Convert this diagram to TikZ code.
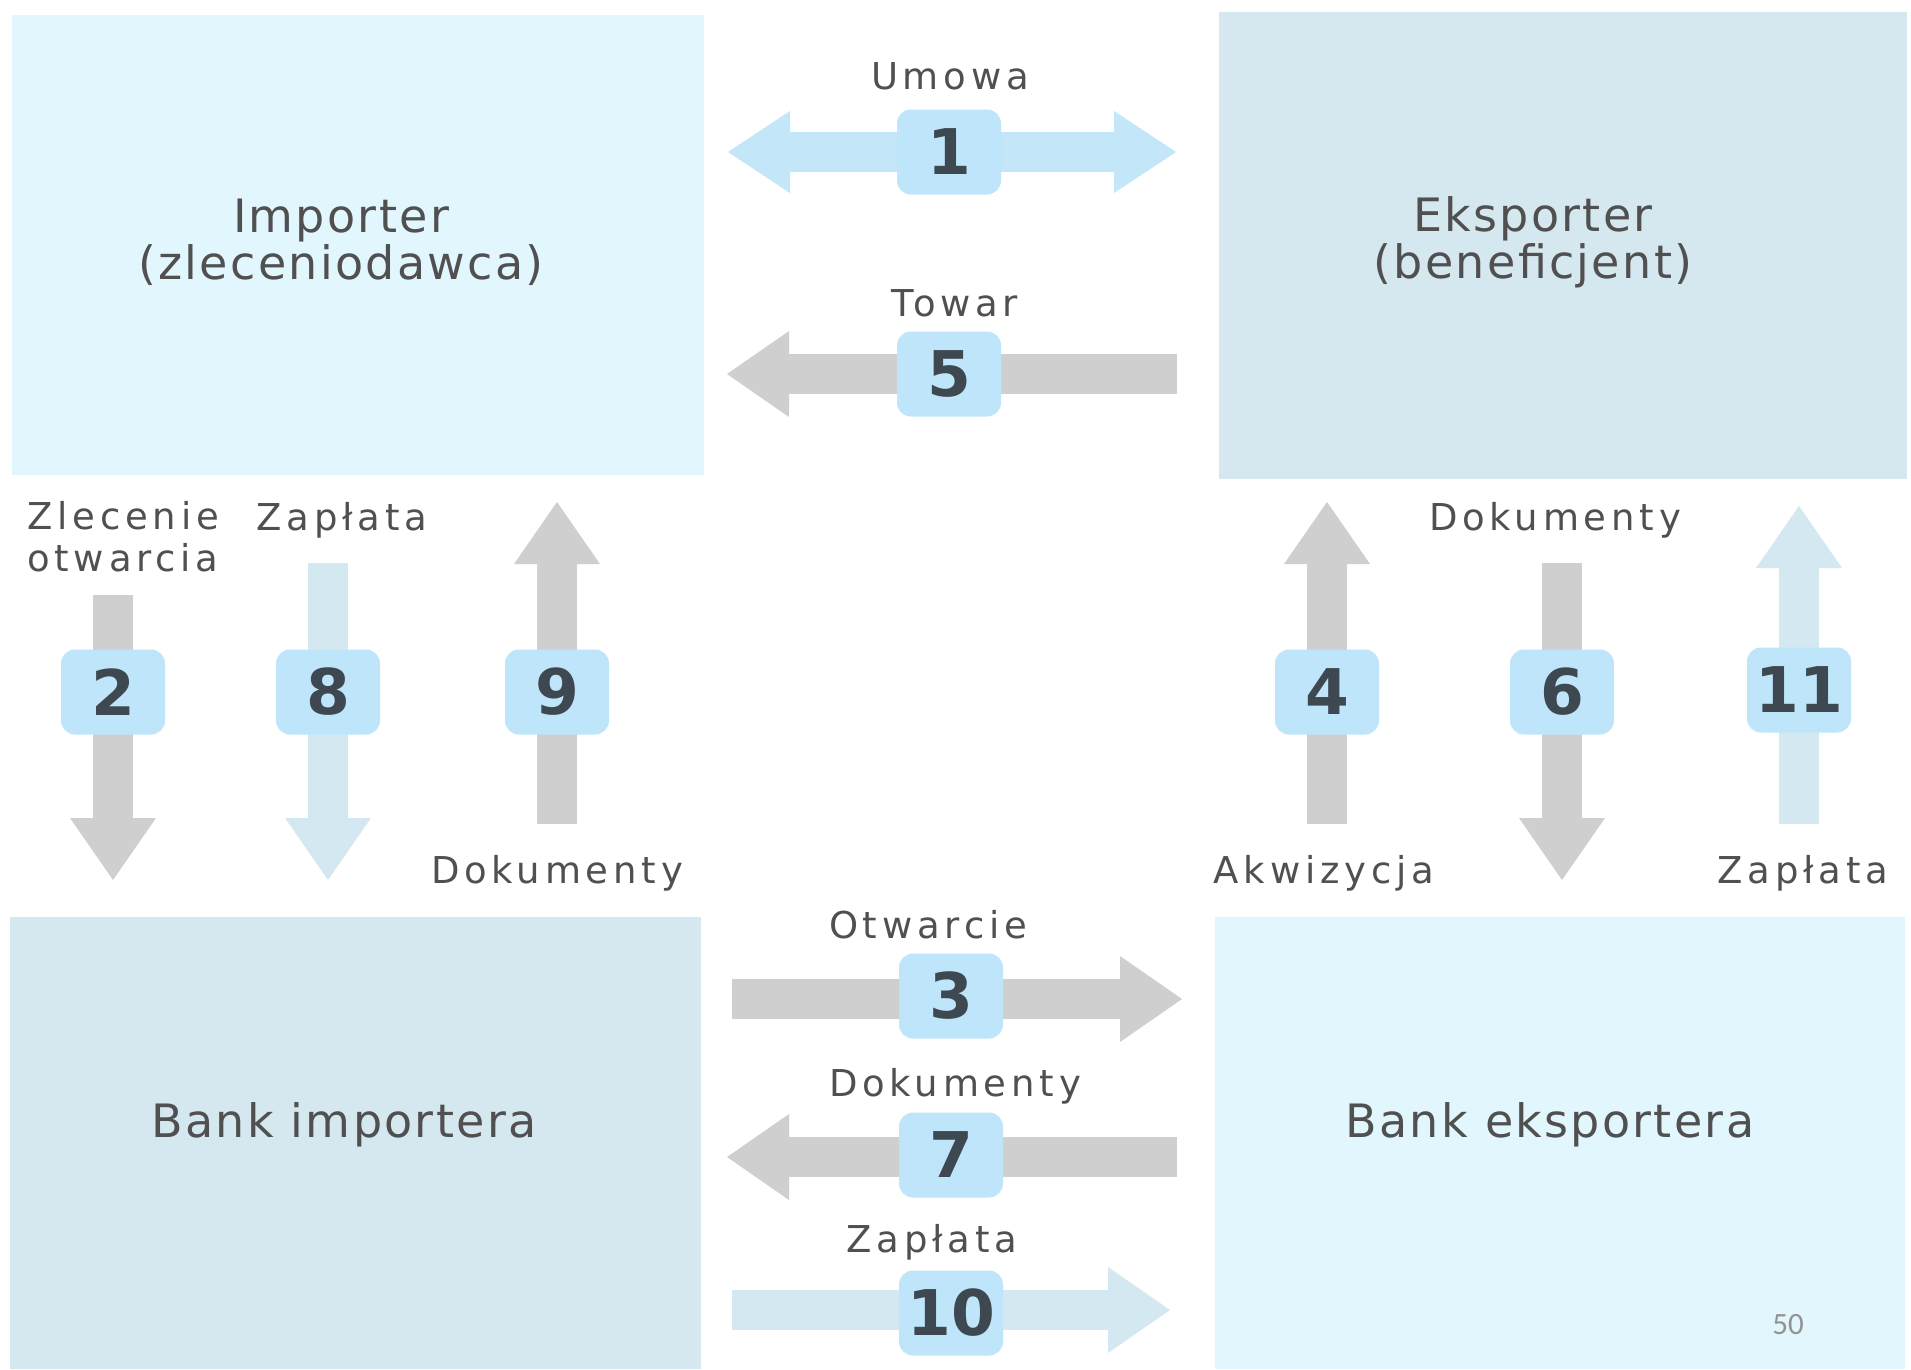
\documentclass[tikz,border=0pt]{standalone}
\usepackage{fontspec}
\setmainfont{DejaVu Sans}
\newfontfamily\bigfont[LetterSpace=5]{DejaVu Sans}
\newfontfamily\lblfont[LetterSpace=13]{DejaVu Sans}
\newfontfamily\pgfont{Carlito}
\usetikzlibrary{arrows.meta}
\definecolor{boxA}{HTML}{E2F6FD}
\definecolor{boxB}{HTML}{D6E8EF}
\definecolor{arrGray}{HTML}{CFCFCF}
\definecolor{arrBlue}{HTML}{C3E6F9}
\definecolor{arrPale}{HTML}{D4E8F1}
\definecolor{badgecol}{HTML}{BEE5FA}
\definecolor{numcol}{HTML}{3E4851}
\definecolor{txtcol}{HTML}{505050}
\begin{document}
\begin{tikzpicture}[x=1pt,y=-1pt,
  box/.style={draw=none,inner sep=0pt},
  bigtxt/.style={align=center,text=txtcol,font=\bigfont\fontsize{46}{47}\selectfont},
  lbl/.style={text=txtcol,font=\lblfont\fontsize{37}{42}\selectfont,text height=0.75em,text depth=0.2em,inner sep=0pt},
  badge/.style={fill=badgecol,rounded corners=14pt,minimum width=104pt,minimum height=85pt,inner sep=0pt,
    text=numcol,font=\bfseries\fontsize{63}{63}\selectfont},
  blk/.style={line width=40pt,-{Triangle[width=86pt,length=62pt,line width=0pt]}},
  blkboth/.style={line width=40pt,{Triangle[width=82pt,length=62pt,line width=0pt]}-{Triangle[width=82pt,length=62pt,line width=0pt]}}
]
\fill[white] (0,0) rectangle (1911,1369);
\useasboundingbox (0,0) rectangle (1911,1369);

% boxes
\node[box,fill=boxA,minimum width=692pt,minimum height=460pt] (imp) at (358,245) {};
\node[bigtxt] (impT) at (341,242) {Importer\\(zleceniodawca)};
\node[box,fill=boxB,minimum width=688pt,minimum height=467pt] (eks) at (1563,245.5) {};
\node[bigtxt] (eksT) at (1533,242) {Eksporter\\(beneficjent)};
\node[box,fill=boxB,minimum width=691pt,minimum height=452pt] (bimp) at (355.5,1143) {};
\node[bigtxt] (bimpT) at (344,1125) {Bank importera};
\node[box,fill=boxA,minimum width=690pt,minimum height=452pt] (beks) at (1560,1143) {};
\node[bigtxt] (beksT) at (1550,1125) {Bank eksportera};

% arrow end points
\coordinate (a1w) at (728,152);  \coordinate (a1e) at (1176,152);
\coordinate (a5s) at (1177,374); \coordinate (a5t) at (727,374);
\coordinate (a3s) at (732,999);  \coordinate (a3t) at (1182,999);
\coordinate (a7s) at (1177,1157);\coordinate (a7t) at (727,1157);
\coordinate (a10s) at (732,1310);\coordinate (a10t) at (1170,1310);
\coordinate (a2s) at (113,595);  \coordinate (a2t) at (113,880);
\coordinate (a8s) at (328,563);  \coordinate (a8t) at (328,880);
\coordinate (a9s) at (557,824);  \coordinate (a9t) at (557,502);
\coordinate (a4s) at (1327,824); \coordinate (a4t) at (1327,502);
\coordinate (a6s) at (1562,563); \coordinate (a6t) at (1562,880);
\coordinate (a11s) at (1799,824);\coordinate (a11t) at (1799,506);

% arrows
\draw[blkboth,arrBlue] (a1w) -- (a1e);
\draw[blk,arrGray] (a5s) -- (a5t);
\draw[blk,arrGray] (a3s) -- (a3t);
\draw[blk,arrGray] (a7s) -- (a7t);
\draw[blk,arrPale] (a10s) -- (a10t);
\draw[blk,arrGray] (a2s) -- (a2t);
\draw[blk,arrPale] (a8s) -- (a8t);
\draw[blk,arrGray] (a9s) -- (a9t);
\draw[blk,arrGray] (a4s) -- (a4t);
\draw[blk,arrGray] (a6s) -- (a6t);
\draw[blk,arrPale] (a11s) -- (a11t);

% badges
\node[badge] (n1) at (949,152) {1};
\node[badge] (n5) at (949,374) {5};
\node[badge] (n3) at (951,996) {3};
\node[badge] (n7) at (951,1155) {7};
\node[badge] (n10) at (951,1313) {10};
\node[badge] (n2) at (113,692) {2};
\node[badge] (n8) at (328,692) {8};
\node[badge] (n9) at (557,692) {9};
\node[badge] (n4) at (1327,692) {4};
\node[badge] (n6) at (1562,692) {6};
\node[badge] (n11) at (1799,690) {11};

% labels
\node[lbl] (lUmowa) at (950,87) {Umowa};
\node[lbl] (lTowar) at (955,314) {Towar};
\node[lbl] (lOtw) at (928,936) {Otwarcie};
\node[lbl] (lDok7) at (955,1094) {Dokumenty};
\node[lbl] (lZap10) at (932,1250) {Zapłata};
\node[lbl,align=left,anchor=west,text height=,text depth=] (lZlec) at (27,537) {Zlecenie\\otwarcia};
\node[lbl] (lZap8) at (342,528) {Zapłata};
\node[lbl] (lDok9) at (557,881) {Dokumenty};
\node[lbl] (lAkw) at (1324,881) {Akwizycja};
\node[lbl] (lDok6) at (1555,528) {Dokumenty};
\node[lbl] (lZap11) at (1803,881) {Zapłata};

\node[text=gray!85,font=\pgfont\fontsize{31}{31}\selectfont] (pg) at (1788,1325) {50};
\end{tikzpicture}
\end{document}
